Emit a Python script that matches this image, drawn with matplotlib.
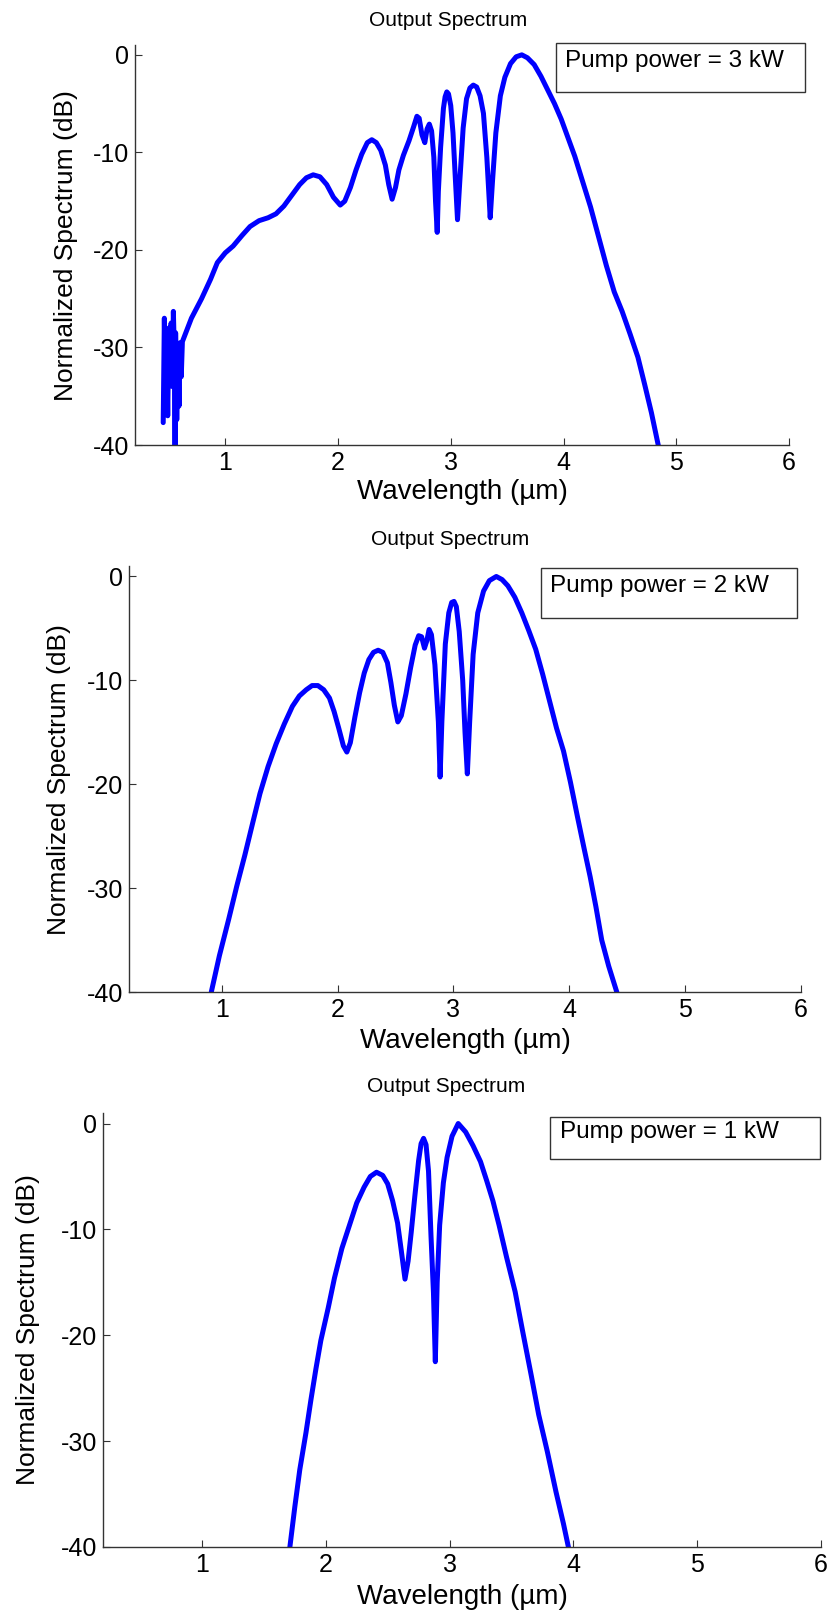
import matplotlib.pyplot as plt
from matplotlib.patches import Rectangle

plt.rcParams['font.family'] = ['Liberation Sans', 'DejaVu Sans']
plt.rcParams['axes.unicode_minus'] = False

# 3 kW spectrum (wavelength in um, level in dB)
wl_3kw = [0.45, 0.46, 0.47, 0.48, 0.49, 0.50, 0.51, 0.52, 0.53, 0.54, 0.55, 0.555,
          0.56, 0.57, 0.58, 0.59, 0.60, 0.61, 0.62,
          0.70, 0.79, 0.87, 0.93, 1.00, 1.07, 1.15, 1.22, 1.30, 1.38, 1.45, 1.52,
          1.59, 1.66, 1.72, 1.78, 1.84, 1.90, 1.96, 2.02, 2.06, 2.11, 2.16, 2.21,
          2.26, 2.30, 2.34, 2.38, 2.42, 2.45, 2.48, 2.51, 2.54, 2.58, 2.63, 2.67,
          2.70, 2.72, 2.745, 2.77, 2.79, 2.81, 2.83, 2.85, 2.865, 2.88, 2.89, 2.91,
          2.935, 2.95, 2.965, 2.98, 3.00, 3.02, 3.04, 3.06, 3.08, 3.11, 3.14, 3.17,
          3.20, 3.23, 3.26, 3.29, 3.32, 3.35, 3.37, 3.40, 3.44, 3.48, 3.53, 3.58,
          3.63, 3.68, 3.74, 3.80, 3.86, 3.92, 3.98, 4.04, 4.10, 4.17, 4.24, 4.31,
          4.38, 4.45, 4.52, 4.59, 4.66, 4.72, 4.78, 4.84, 4.86]
db_3kw = [-37.7, -27.0, -35.5, -29.0, -37.0, -28.0, -33.0, -27.5, -34.0, -26.3, -31.0, -41.0,
          -28.5, -37.4, -30.0, -36.0, -29.5, -33.0, -29.4,
          -27.0, -25.0, -23.0, -21.3, -20.3, -19.6, -18.5, -17.6, -17.0, -16.7, -16.3, -15.5,
          -14.4, -13.3, -12.6, -12.3, -12.5, -13.3, -14.6, -15.4, -15.0, -13.6, -11.8, -10.2,
          -9.0, -8.7, -9.0, -9.8, -11.3, -13.3, -14.8, -13.6, -11.8, -10.3, -8.8, -7.4,
          -6.3, -6.5, -8.2, -9.0, -7.6, -7.1, -7.8, -10.5, -15.0, -18.2, -14.0, -9.5,
          -5.5, -4.3, -3.8, -4.0, -5.2, -8.0, -12.5, -16.9, -13.0, -7.5, -4.5, -3.4,
          -3.1, -3.3, -4.2, -6.0, -10.5, -16.7, -13.0, -8.0, -4.2, -2.3, -0.9, -0.2,
          0.0, -0.3, -1.0, -2.2, -3.6, -5.0, -6.6, -8.5, -10.4, -13.0, -15.6, -18.6,
          -21.6, -24.3, -26.3, -28.6, -31.0, -33.8, -36.7, -40.0, -41.0]

# 2 kW spectrum
wl_2kw = [0.91, 0.98, 1.06, 1.13, 1.20, 1.27, 1.33, 1.40, 1.47, 1.54, 1.61, 1.67,
          1.73, 1.78, 1.83, 1.88, 1.93, 1.97, 2.01, 2.05, 2.08, 2.11, 2.15, 2.19,
          2.23, 2.27, 2.31, 2.35, 2.39, 2.43, 2.46, 2.49, 2.52, 2.55, 2.59, 2.63,
          2.67, 2.70, 2.725, 2.75, 2.77, 2.79, 2.81, 2.84, 2.87, 2.885, 2.90, 2.93,
          2.96, 2.985, 3.005, 3.025, 3.05, 3.08, 3.10, 3.12, 3.14, 3.17, 3.21, 3.26,
          3.31, 3.37, 3.42, 3.47, 3.53, 3.59, 3.65, 3.71, 3.77, 3.83, 3.89, 3.95,
          4.01, 4.07, 4.13, 4.18, 4.23, 4.28, 4.34, 4.41, 4.43]
db_2kw = [-40.0, -36.5, -33.0, -29.8, -26.8, -23.6, -20.9, -18.3, -16.1, -14.2, -12.5, -11.5,
          -10.9, -10.5, -10.5, -10.9, -11.7, -13.0, -14.6, -16.3, -16.9, -16.0, -13.5, -11.2,
          -9.3, -8.0, -7.3, -7.1, -7.3, -8.3, -10.2, -12.4, -14.0, -13.4, -11.3, -8.8,
          -6.6, -5.7, -5.8, -6.9, -6.2, -5.1, -5.6, -8.5, -14.0, -19.3, -14.0, -6.5,
          -3.5, -2.5, -2.4, -2.9, -5.3, -10.0, -15.0, -19.0, -14.0, -7.5, -3.5, -1.4,
          -0.4, 0.0, -0.3, -0.9, -2.0, -3.5, -5.2, -7.0, -9.4, -12.0, -14.6, -16.8,
          -19.8, -23.1, -26.3, -28.9, -31.8, -35.0, -37.5, -40.0, -41.0]

# 1 kW spectrum
wl_1kw = [1.71, 1.75, 1.79, 1.84, 1.88, 1.92, 1.96, 2.02, 2.07, 2.13, 2.20, 2.25,
          2.31, 2.36, 2.41, 2.46, 2.50, 2.54, 2.58, 2.61, 2.64, 2.665, 2.69, 2.72,
          2.75, 2.77, 2.79, 2.81, 2.83, 2.85, 2.87, 2.885, 2.90, 2.92, 2.95, 2.98,
          3.02, 3.07, 3.13, 3.19, 3.25, 3.30, 3.35, 3.40, 3.46, 3.53, 3.59, 3.66,
          3.72, 3.79, 3.86, 3.92, 3.96, 3.98]
db_1kw = [-40.0, -36.2, -32.7, -29.2, -26.1, -23.2, -20.5, -17.4, -14.6, -11.8, -9.3, -7.5,
          -6.0, -5.0, -4.6, -4.9, -5.7, -7.3, -9.4, -12.0, -14.7, -13.0, -10.3, -6.8,
          -3.5, -1.9, -1.4, -2.0, -4.5, -10.6, -16.0, -22.5, -15.0, -9.6, -5.6, -3.2,
          -1.2, 0.0, -0.8, -2.1, -3.6, -5.4, -7.3, -9.6, -12.6, -15.9, -19.6, -23.8,
          -27.5, -31.0, -34.8, -37.8, -40.0, -41.0]

labels = ['Pump power = 3 kW', 'Pump power = 2 kW', 'Pump power = 1 kW']
xticks = [1, 2, 3, 4, 5, 6]
yticks = [-40, -30, -20, -10, 0]

series = [(wl_3kw, db_3kw), (wl_2kw, db_2kw), (wl_1kw, db_1kw)]

# axes rectangles [left, bottom, width, height] in figure fractions
rects = [[0.1621, 0.7246, 0.7851, 0.2475],
         [0.1549, 0.3861, 0.8067, 0.2636],
         [0.1236, 0.0427, 0.8619, 0.2686]]
# annotation box (x0, y0, x1, y1) in axes fractions
boxes = [(0.644, 0.8825, 1.024, 1.005),
         (0.613, 0.878, 0.994, 0.995),
         (0.623, 0.894, 0.999, 0.991)]

fig = plt.figure(figsize=(8.33, 16.16), dpi=100)

for (x, y), r, lab, b in zip(series, rects, labels, boxes):
    ax = fig.add_axes(r)
    ax.plot(x, y, color='#0000ff', lw=3.6, solid_capstyle='round',
            solid_joinstyle='round')
    ax.set_xlim(0.2, 6)
    ax.set_ylim(-40, 1)
    ax.set_xticks(xticks)
    ax.set_yticks(yticks)
    ax.tick_params(direction='in', length=5, width=0.8, labelsize=18, pad=4,
                   color='#333333')
    for s in ['top', 'right']:
        ax.spines[s].set_visible(False)
    for s in ['left', 'bottom']:
        ax.spines[s].set_color('#333333')
        ax.spines[s].set_linewidth(1.0)
    ax.set_xlabel('Wavelength (\u00b5m)', fontsize=20)
    ax.set_ylabel('Normalized Spectrum (dB)', fontsize=19)
    ax.xaxis.set_label_coords(0.5, -0.085)
    ax.yaxis.set_label_coords(-0.087, 0.5)
    ax.text(0.478, 1.062, 'Output Spectrum', transform=ax.transAxes,
            ha='center', va='center', fontsize=15)
    x0, y0, x1, y1 = b
    ax.add_patch(Rectangle((x0, y0), x1 - x0, y1 - y0, transform=ax.transAxes,
                           fill=False, edgecolor='#333333', lw=1.0, clip_on=False))
    ax.text(x0 + 0.014, y1 - (y1 - y0) * 0.36, lab, transform=ax.transAxes,
            ha='left', va='center', fontsize=17.5)

fig.savefig('out.png', dpi=100)
